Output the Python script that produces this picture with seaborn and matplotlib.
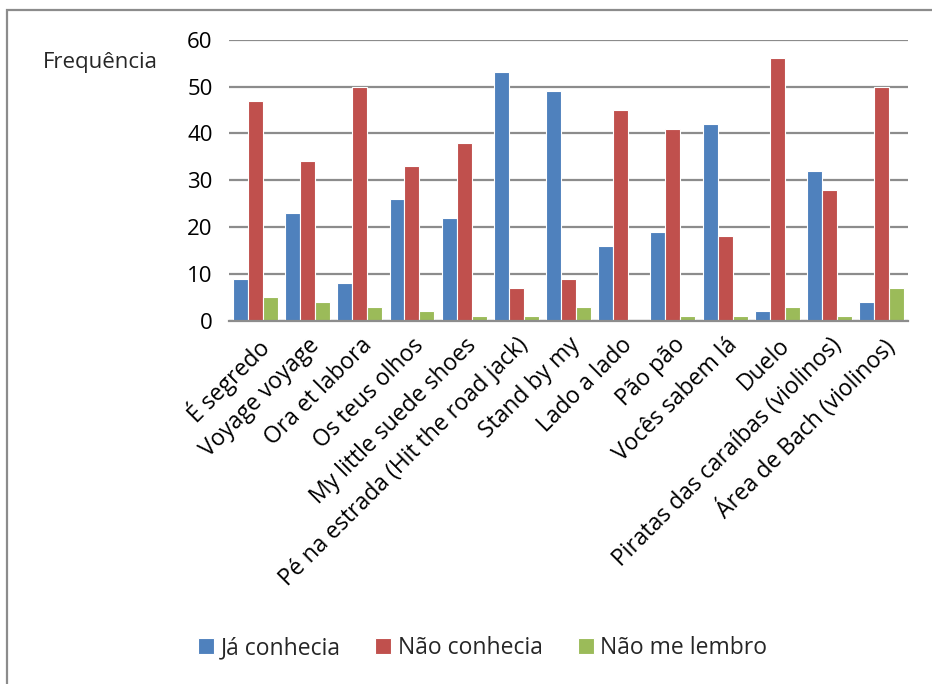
import matplotlib
matplotlib.use("Agg")
import matplotlib.pyplot as plt
import seaborn as sns
import pandas as pd
from matplotlib.patches import Rectangle

songs = [
    "É segredo", "Voyage voyage", "Ora et labora", "Os teus olhos",
    "My little suede shoes", "Pé na estrada (Hit the road jack)",
    "Stand by my", "Lado a lado", "Pão pão", "Vocês sabem lá", "Duelo",
    "Piratas das caraíbas (violinos)", "Área de Bach (violinos)",
]
ja_conhecia = [9, 23, 8, 26, 22, 53, 49, 16, 19, 42, 2, 32, 4]
nao_conhecia = [47, 34, 50, 33, 38, 7, 9, 45, 41, 18, 56, 28, 50]
nao_lembro = [5, 4, 3, 2, 1, 1, 3, 0, 1, 1, 3, 1, 7]
series_names = ["Já conhecia", "Não conhecia", "Não me lembro"]
colors = ["#4F81BD", "#C0504D", "#9BBB59"]

df = pd.DataFrame({
    "song": songs * 3,
    "value": ja_conhecia + nao_conhecia + nao_lembro,
    "serie": [s for s in series_names for _ in songs],
})

sns.set_theme(style="white")
plt.rcParams["font.family"] = ["Open Sans", "DejaVu Sans"]

fig = plt.figure(figsize=(9.32, 6.84), dpi=100)
ax = fig.add_axes([0.246, 0.531, 0.728, 0.411])

sns.barplot(data=df, x="song", y="value", hue="serie", palette=colors,
            saturation=1, width=0.86, edgecolor="white", linewidth=0.8,
            ax=ax, legend=True)

ax.set_ylim(0, 60)
ax.set_yticks(range(0, 61, 10))
ax.set_xlim(-0.5, len(songs) - 0.5)
ax.yaxis.grid(True, color="#8c8c8c", linewidth=1.6)
ax.set_axisbelow(True)
for s in ["top", "right", "left"]:
    ax.spines[s].set_visible(False)
ax.spines["bottom"].set_color("#8c8c8c")
ax.spines["bottom"].set_linewidth(1.6)
ax.tick_params(axis="y", length=0, labelsize=16, colors="black", pad=12)
ax.tick_params(axis="x", length=0, labelsize=16.5, colors="black", pad=9)
ax.set_xlabel("")
ax.set_ylabel("")
plt.setp(ax.get_xticklabels(), rotation=45, ha="right", rotation_mode="anchor")

fig.text(0.046, 0.909, "Frequência", fontsize=16, va="center", ha="left")

handles, labels = ax.get_legend_handles_labels()
ax.legend_.remove()
fig.legend(handles, labels, loc="center", bbox_to_anchor=(0.518, 0.052), ncol=3,
           frameon=False, fontsize=16.5, handlelength=0.7, handleheight=0.7,
           handletextpad=0.3, columnspacing=1.5)

fig.patches.append(Rectangle((0.0075, -0.05), 1.05, 1.0354, transform=fig.transFigure,
                             fill=False, edgecolor="#8c8c8c", linewidth=1.6))

fig.savefig("out.png", dpi=100)
